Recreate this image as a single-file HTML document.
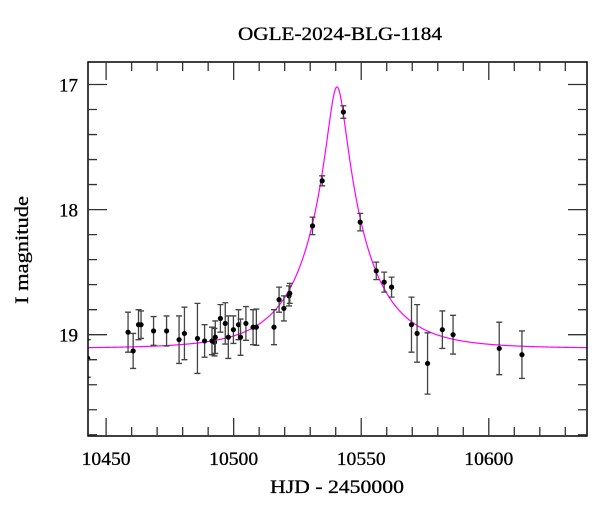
<!DOCTYPE html>
<html><head><meta charset="utf-8"><style>
html,body{margin:0;padding:0;background:#fff;}
svg text{font-family:"Liberation Serif",serif;fill:#000;}
</style></head><body>
<svg id="chart" width="600" height="512" viewBox="0 0 600 512" xmlns="http://www.w3.org/2000/svg">
<text x="340" y="40" font-size="19" text-anchor="middle" textLength="204" lengthAdjust="spacingAndGlyphs" stroke="#000" stroke-width="0.3">OGLE-2024-BLG-1184</text>
<text x="337" y="493" font-size="19" text-anchor="middle" textLength="134" lengthAdjust="spacingAndGlyphs" stroke="#000" stroke-width="0.3">HJD - 2450000</text>
<text x="0" y="0" font-size="19" text-anchor="middle" transform="translate(28,250) rotate(-90)" textLength="108" lengthAdjust="spacingAndGlyphs" stroke="#000" stroke-width="0.3">I magnitude</text>
<g id="curve-layer"></g>
<g id="data-layer"></g>
<g id="axes-layer"></g>
</svg>
<script>
// data
const times = [10442.8,10458.6,10460.6,10462.7,10463.7,10468.6,10473.7,10478.6,10480.7,10485.8,10488.6,10491.5,10492.5,10492.8,10494.8,10496.7,10497.9,10499.9,10501.9,10502.7,10504.8,10507.6,10508.9,10515.8,10517.8,10519.7,10521.7,10522.0,10530.9,10534.7,10543.0,10549.6,10555.9,10559.0,10561.9,10569.7,10571.9,10576.0,10581.8,10586.0,10604.1,10613.0];
const mags = [19.19,18.98,19.13,18.92,18.92,18.97,18.97,19.04,18.99,19.03,19.05,19.05,19.06,19.02,18.87,18.91,19.02,18.96,18.92,19.02,18.91,18.94,18.94,18.94,18.72,18.79,18.69,18.67,18.13,17.77,17.22,18.10,18.49,18.58,18.62,18.92,18.99,19.23,18.96,19.00,19.11,19.16];
const errs = [0.15,0.16,0.14,0.12,0.11,0.115,0.12,0.19,0.21,0.28,0.13,0.11,0.11,0.13,0.11,0.165,0.17,0.11,0.12,0.145,0.135,0.14,0.145,0.14,0.10,0.10,0.08,0.08,0.07,0.04,0.05,0.07,0.07,0.08,0.08,0.22,0.23,0.245,0.15,0.155,0.21,0.19];
const xMajorTicks = [10450,10500,10550,10600];
const xTickLabels = ["10450","10500","10550","10600"];
const yMajorTicks = [17,18,19];
const yTickLabels = ["17","18","19"];
// model parameters (Paczynski)
const t0 = 10540.5, u0 = 0.147, tE = 24, baseMag = 19.11;

const L=88,R=587,T=62,B=436;
const xMin=10442.9,xMax=10638.5,yMin=16.82,yMax=19.81;
const X=t=>L+(t-xMin)/(xMax-xMin)*(R-L);
const Y=m=>T+(m-yMin)/(yMax-yMin)*(B-T);
const NS="http://www.w3.org/2000/svg";
function mk(tag,attrs,parent){const e=document.createElementNS(NS,tag);for(const k in attrs)e.setAttribute(k,attrs[k]);parent.appendChild(e);return e;}

// curve
const cl=document.getElementById('curve-layer');
let d="";
for(let t=xMin;t<=xMax;t+=0.1){
  const u=Math.sqrt(u0*u0+((t-t0)/tE)**2);
  const A=(u*u+2)/(u*Math.sqrt(u*u+4));
  const m=baseMag-2.5*Math.log10(A);
  d+=(d?"L":"M")+X(t).toFixed(2)+","+Y(m).toFixed(2);
}
const cp=mk('path',{d:d,fill:'none',stroke:'#ff00ff','stroke-width':1.2},cl);



// data
const dl=document.getElementById('data-layer');
mk('clipPath',{id:'clip'},dl);
const clip=dl.querySelector('#clip');mk('rect',{x:L,y:T,width:R-L,height:B-T},clip);
const g=mk('g',{'clip-path':'url(#clip)'},dl);
for(let i=0;i<times.length;i++){
  const x=X(times[i]),y=Y(mags[i]),y1=Y(mags[i]-errs[i]),y2=Y(mags[i]+errs[i]);
  const eb=mk('path',{d:`M${x},${y1}V${y2}M${x-3},${y1}H${x+3}M${x-3},${y2}H${x+3}`,stroke:'#444','stroke-width':1.3,fill:'none'},g);
  
  
  const c=mk('circle',{cx:x,cy:y,r:2.6,fill:'#000'},g);
  
  
}

// axes
const al=document.getElementById('axes-layer');
const fr=mk('rect',{x:L,y:T,width:R-L,height:B-T,fill:'none',stroke:'#000','stroke-width':1.5},al);


let td="";
for(let t=10450;t<=xMax;t+=10){
  const x=X(t),len=(t%50===0)?18:9;
  td+=`M${x},${B}v${-len}M${x},${T}v${len}`;
}
for(let m=17;m<=yMax+0.001;m+=0.2){
  const y=Y(m),maj=Math.abs(m-Math.round(m))<0.01,len=maj?19:9;
  td+=`M${L},${y}h${len}M${R},${y}h${-len}`;
}
const tk=mk('path',{d:td,stroke:'#333','stroke-width':1.3,fill:'none'},al);


xMajorTicks.forEach((t,i)=>{
  const e=mk('text',{x:X(t),y:465,'font-size':19,'text-anchor':'middle',textLength:49,lengthAdjust:'spacingAndGlyphs',stroke:'#000','stroke-width':0.3},al);
  e.textContent=xTickLabels[i];
  
  
});
yMajorTicks.forEach((m,i)=>{
  const e=mk('text',{x:78,y:Y(m)+7,'font-size':19,'text-anchor':'end',stroke:'#000','stroke-width':0.3},al);
  e.textContent=yTickLabels[i];
  
  
});
</script>
</body></html>
